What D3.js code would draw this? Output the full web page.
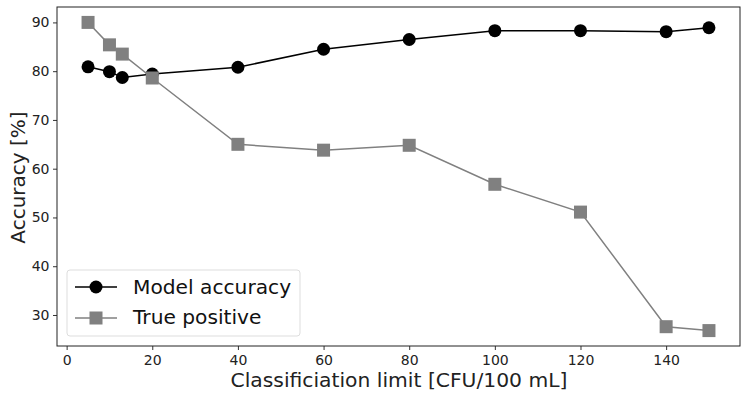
<!DOCTYPE html>
<html>
<head>
<meta charset="utf-8">
<script src="https://cdn.jsdelivr.net/npm/d3@7"></script>
<style>
  body { margin: 0; background: #fff; }
  text { font-family: "DejaVu Sans", sans-serif; }
</style>
</head>
<body>
<script>
// data
const limits = [5, 10, 13, 20, 40, 60, 80, 100, 120, 140, 150];
const modelAccuracy = [80.9, 79.9, 78.7, 79.4, 80.8, 84.5, 86.5, 88.3, 88.3, 88.1, 88.9];
const truePositive = [90.0, 85.4, 83.5, 78.6, 65.0, 63.8, 64.8, 56.8, 51.1, 27.6, 26.8];
const xTicks = [0, 20, 40, 60, 80, 100, 120, 140];
const yTicks = [30, 40, 50, 60, 70, 80, 90];

const W = 748, H = 400;
const m = {left: 57, right: 8, top: 7, bottom: 54};

const svg = d3.select("body").append("svg").attr("width", W).attr("height", H);

// matplotlib-like 5% padding
const pad = (lo, hi) => { const d = (hi - lo) * 0.05; return [lo - d, hi + d]; };
const allY = modelAccuracy.concat(truePositive);

const x = d3.scaleLinear().domain(pad(d3.min(limits), d3.max(limits))).range([m.left, W - m.right]);
const y = d3.scaleLinear().domain(pad(d3.min(allY), d3.max(allY))).range([H - m.bottom, m.top]);

// axes
let xAxis = svg.append("g").attr("transform", `translate(0,${H - m.bottom})`)
  .call(d3.axisBottom(x).tickValues(xTicks).tickSize(4).tickPadding(5));
let yAxis = svg.append("g").attr("transform", `translate(${m.left},0)`)
  .call(d3.axisLeft(y).tickValues(yTicks).tickSize(4).tickPadding(3.5));
[xAxis, yAxis].forEach(a => {
  a.select(".domain").remove();
  a.selectAll("line").attr("stroke", "#333");
  a.selectAll("text").attr("font-size", 14).attr("fill", "#222")
    .style("font-family", "DejaVu Sans, sans-serif");
});

// frame
svg.append("rect")
  .attr("x", m.left).attr("y", m.top)
  .attr("width", W - m.left - m.right).attr("height", H - m.top - m.bottom)
  .attr("fill", "none").attr("stroke", "#222").attr("stroke-width", 1);

// series
const line = d3.line().x(d => x(d[0])).y(d => y(d[1]));
const tpData = limits.map((l, i) => [l, truePositive[i]]);
const maData = limits.map((l, i) => [l, modelAccuracy[i]]);

svg.append("path").datum(tpData).attr("d", line)
  .attr("fill", "none").attr("stroke", "#808080").attr("stroke-width", 1.5);
svg.append("path").datum(maData).attr("d", line)
  .attr("fill", "none").attr("stroke", "#000").attr("stroke-width", 1.5);

svg.selectAll(".ma").data(maData).enter().append("circle")
  .attr("cx", d => x(d[0])).attr("cy", d => y(d[1])).attr("r", 6.5).attr("fill", "#000");

svg.selectAll(".tp").data(tpData).enter().append("rect")
  .attr("x", d => x(d[0]) - 6.5).attr("y", d => y(d[1]) - 6.5)
  .attr("width", 13).attr("height", 13).attr("fill", "#808080");

// axis labels
svg.append("text").attr("x", (m.left + W - m.right) / 2 + 0.5).attr("y", 387)
  .attr("text-anchor", "middle").attr("font-size", 20.3).attr("fill", "#222")
  .text("Classificiation limit [CFU/100 mL]");
svg.append("text").attr("transform", `translate(25,${(m.top + H - m.bottom) / 2 + 1}) rotate(-90)`)
  .attr("text-anchor", "middle").attr("font-size", 20).attr("fill", "#222")
  .text("Accuracy [%]");

// legend
let lg = svg.append("g").attr("transform", "translate(67,270)");
lg.append("rect").attr("width", 233).attr("height", 66).attr("rx", 3)
  .attr("fill", "#fff").attr("fill-opacity", 0.8).attr("stroke", "#ddd");
lg.append("line").attr("x1", 8).attr("x2", 50).attr("y1", 17).attr("y2", 17)
  .attr("stroke", "#000").attr("stroke-width", 1.5);
lg.append("circle").attr("cx", 29).attr("cy", 17).attr("r", 6.5).attr("fill", "#000");
lg.append("line").attr("x1", 8).attr("x2", 50).attr("y1", 48).attr("y2", 48)
  .attr("stroke", "#808080").attr("stroke-width", 1.5);
lg.append("rect").attr("x", 22.5).attr("y", 41.5).attr("width", 13).attr("height", 13).attr("fill", "#808080");
lg.append("text").attr("x", 66).attr("y", 23.5).attr("font-size", 20.2).attr("fill", "#111").text("Model accuracy");
lg.append("text").attr("x", 66).attr("y", 53.5).attr("font-size", 20.2).attr("fill", "#111").text("True positive");
</script>
</body>
</html>
